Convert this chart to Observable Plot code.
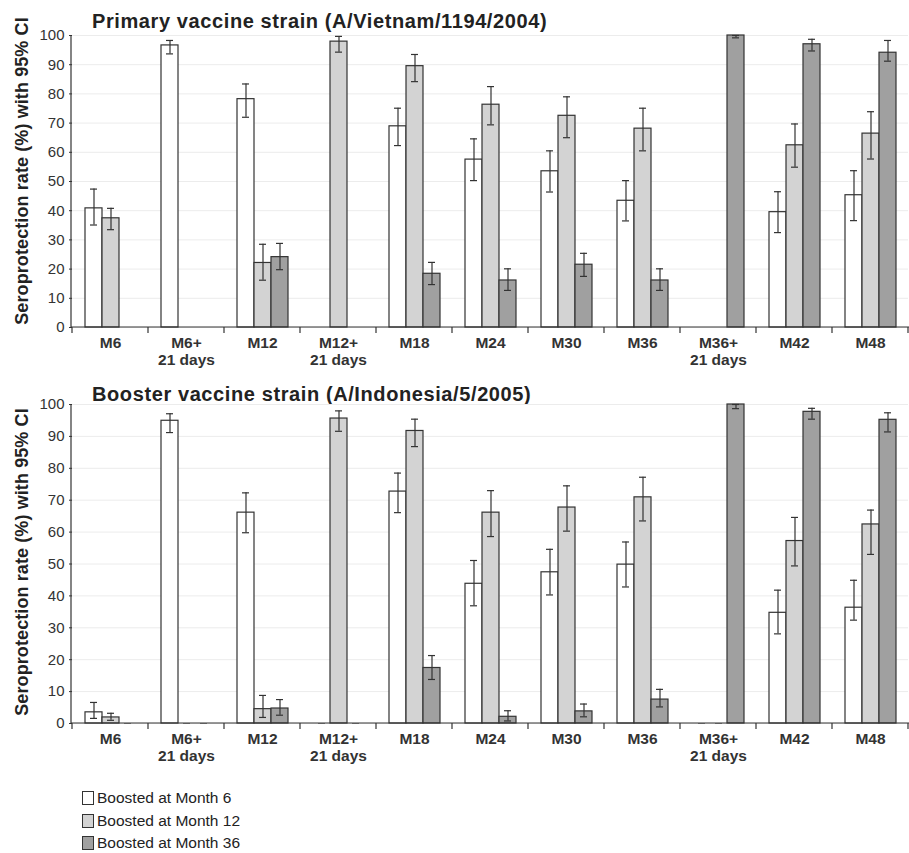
<!DOCTYPE html>
<html>
<head>
<meta charset="utf-8">
<script src="https://cdn.jsdelivr.net/npm/d3@7"></script>
<script src="https://cdn.jsdelivr.net/npm/@observablehq/plot@0.6"></script>
<style>
  body { margin: 0; background: #fff; font-family: "Liberation Sans", Arial, sans-serif; color: #222; }
  #wrap { position: relative; width: 909px; height: 853px; overflow: hidden; }
  .title { position: absolute; left: 92px; font-weight: bold; font-size: 20px; letter-spacing: 0.6px; line-height: 20px; color: #222; white-space: nowrap; }
  .ylab { position: absolute; font-weight: bold; font-size: 18px; letter-spacing: 0.1px; color: #222; white-space: nowrap;
          transform: translate(-50%, -50%) rotate(-90deg); }
  .chart { position: absolute; left: 0; }
  .legend { position: absolute; left: 82px; top: 787px; font-size: 15.5px; color: #222; }
  .legend div { display: flex; align-items: center; height: 22.5px; }
  .legend span.sw { display: inline-block; width: 12px; height: 14px; border: 1px solid #333; margin-right: 3px; box-sizing: border-box; }
</style>
</head>
<body>
<div id="wrap">
  <div class="title" style="top:11px">Primary vaccine strain (A/Vietnam/1194/2004)</div>
  <div class="ylab" style="left:22px; top:171px">Seroprotection rate (%) with 95% CI</div>
  <div class="chart" id="c1" style="top:25px"></div>
  <div class="title" style="top:384px">Booster vaccine strain (A/Indonesia/5/2005)</div>
  <div class="ylab" style="left:22px; top:562px">Seroprotection rate (%) with 95% CI</div>
  <div class="chart" id="c2" style="top:394px"></div>
  <div class="legend" id="legend"></div>
</div>
<script>
// ---- data ----
const timepoints = ["M6", "M6+21", "M12", "M12+21", "M18", "M24", "M30", "M36", "M36+21", "M42", "M48"];
const tickLabels = ["M6", "M6+\n21 days", "M12", "M12+\n21 days", "M18", "M24", "M30", "M36", "M36+\n21 days", "M42", "M48"];
const groups = ["Boosted at Month 6", "Boosted at Month 12", "Boosted at Month 36"];
const groupFills = ["#ffffff", "#d3d3d3", "#a0a0a0"];
const yTicks = [0, 10, 20, 30, 40, 50, 60, 70, 80, 90, 100];

// Primary vaccine strain (A/Vietnam/1194/2004)
const primaryM6   = [40.8, 96.6, 78.2, null, 68.9, 57.5, 53.5, 43.4, null, 39.5, 45.3];
const primaryM6Lo = [35.1, 93.7, 72.0, null, 62.3, 50.3, 46.4, 36.5, null, 32.5, 36.6];
const primaryM6Hi = [47.4, 98.3, 83.4, null, 75.1, 64.6, 60.5, 50.3, null, 46.5, 53.7];
const primaryM12   = [37.4, null, 22.1, 97.9, 89.5, 76.3, 72.5, 68.1, null, 62.4, 66.4];
const primaryM12Lo = [33.5, null, 16.2, 94.3, 84.2, 69.4, 65.0, 60.5, null, 54.9, 57.7];
const primaryM12Hi = [40.8, null, 28.5, 99.7, 93.5, 82.5, 79.0, 75.1, null, 69.7, 73.9];
const primaryM36   = [null, null, 24.1, null, 18.4, 16.1, 21.5, 16.1, 100, 97.0, 94.1];
const primaryM36Lo = [null, null, 19.8, null, 14.7, 12.7, 17.5, 12.7, 99.2, 94.7, 91.2];
const primaryM36Hi = [null, null, 28.8, null, 22.3, 20.1, 25.4, 20.1, 100, 98.7, 98.3];

// Booster vaccine strain (A/Indonesia/5/2005)
const boosterM6   = [3.5, 94.9, 66.1, 0, 72.7, 43.8, 47.4, 49.8, 0, 34.7, 36.3];
const boosterM6Lo = [1.6, 91.2, 59.8, null, 66.1, 36.9, 40.3, 42.8, null, 28.1, 32.4];
const boosterM6Hi = [6.6, 97.1, 72.3, null, 78.5, 51.1, 54.6, 56.9, null, 41.8, 44.9];
const boosterM12   = [1.9, 0, 4.5, 95.6, 91.7, 66.1, 67.7, 70.9, 0, 57.2, 62.4];
const boosterM12Lo = [1.0, null, 1.9, 91.6, 86.8, 58.6, 60.3, 63.5, null, 49.4, 53.0];
const boosterM12Hi = [3.2, null, 8.8, 98.0, 95.4, 73.0, 74.5, 77.2, null, 64.6, 66.9];
const boosterM36   = [0, 0, 4.7, 0, 17.4, 2.1, 3.8, 7.5, 100, 97.7, 95.2];
const boosterM36Lo = [null, null, 2.6, null, 13.8, 0.8, 2.1, 5.2, 98.7, 95.4, 91.4];
const boosterM36Hi = [null, null, 7.5, null, 21.3, 4.0, 6.1, 10.7, 100, 98.8, 97.4];

// ---- build tables ----
function table(series) {
  const out = [];
  series.forEach(([vals, lo, hi], gi) => {
    timepoints.forEach((t, ti) => {
      out.push({time: t, group: groups[gi], value: vals[ti], lo: lo[ti], hi: hi[ti]});
    });
  });
  return out;
}
const primary = table([[primaryM6, primaryM6Lo, primaryM6Hi], [primaryM12, primaryM12Lo, primaryM12Hi], [primaryM36, primaryM36Lo, primaryM36Hi]]);
const booster = table([[boosterM6, boosterM6Lo, boosterM6Hi], [boosterM12, boosterM12Lo, boosterM12Hi], [boosterM36, boosterM36Lo, boosterM36Hi]]);
const labelMap = new Map(timepoints.map((t, i) => [t, tickLabels[i]]));

function chart(data, height) {
  const bars = data.filter(d => d.value != null && d.value > 0);
  const zeros = data.filter(d => d.value === 0);
  const errs = data.filter(d => d.lo != null && d.hi != null);
  const ML = 71, MR = 1;
  const plot = Plot.plot({
    width: 909, height, marginTop: 10, marginBottom: 45, marginLeft: ML, marginRight: MR,
    style: {fontFamily: "'Liberation Sans', Arial, sans-serif", fontSize: "15px", color: "#333", background: "transparent"},
    fx: {domain: timepoints, padding: 0, label: null},
    x: {domain: groups, paddingInner: 0, paddingOuter: 0.73, axis: null},
    y: {domain: [0, 100], label: null},
    color: {domain: groups, range: groupFills},
    marks: [
      Plot.gridY(yTicks, {stroke: "#ececec", strokeOpacity: 1}),
      Plot.axisY(yTicks, {tickSize: 3, tickPadding: 5, label: null, fontSize: 15, stroke: "#333"}),
      Plot.axisFx({anchor: "bottom", tickSize: 0, tickPadding: 9, tickFormat: d => labelMap.get(d), fontWeight: "bold", fontSize: 15.5, lineHeight: 1.08, label: null}),
      Plot.barY(bars, {fx: "time", x: "group", y: "value", fill: "group", stroke: "#333", strokeWidth: 1.2}),
      Plot.tickY(zeros, {fx: "time", x: "group", y: 0, stroke: "#888", insetLeft: 5, insetRight: 5}),
      Plot.ruleX(errs, {fx: "time", x: "group", y1: "lo", y2: "hi", stroke: "#333", strokeWidth: 1.2}),
      Plot.tickY(errs, {fx: "time", x: "group", y: "lo", stroke: "#333", strokeWidth: 1.2, insetLeft: 5, insetRight: 5}),
      Plot.tickY(errs, {fx: "time", x: "group", y: "hi", stroke: "#333", strokeWidth: 1.2, insetLeft: 5, insetRight: 5})
    ]
  });
  // axis lines and category boundary ticks drawn from the plot's own scales
  const y = plot.scale("y"), fx = plot.scale("fx");
  const y0 = y.apply(0), y100 = y.apply(100);
  const bounds = fx.domain.map(d => fx.apply(d));
  bounds.push(fx.apply(fx.domain[fx.domain.length - 1]) + fx.bandwidth);
  const g = d3.select(plot).append("g").attr("stroke", "#333").attr("stroke-width", 1.2).attr("fill", "none");
  g.append("line").attr("x1", ML).attr("x2", 909).attr("y1", y0).attr("y2", y0);
  g.append("line").attr("x1", ML).attr("x2", ML).attr("y1", y100).attr("y2", y0);
  bounds.forEach(b => g.append("line").attr("x1", b).attr("x2", b).attr("y1", y0).attr("y2", y0 + 6));
  return plot;
}

document.getElementById("c1").appendChild(chart(primary, 347));
document.getElementById("c2").appendChild(chart(booster, 374));

const legend = document.getElementById("legend");
groups.forEach((g, i) => {
  const row = document.createElement("div");
  const sw = document.createElement("span");
  sw.className = "sw";
  sw.style.background = groupFills[i];
  row.appendChild(sw);
  row.appendChild(document.createTextNode(g));
  legend.appendChild(row);
});
</script>
</body>
</html>
